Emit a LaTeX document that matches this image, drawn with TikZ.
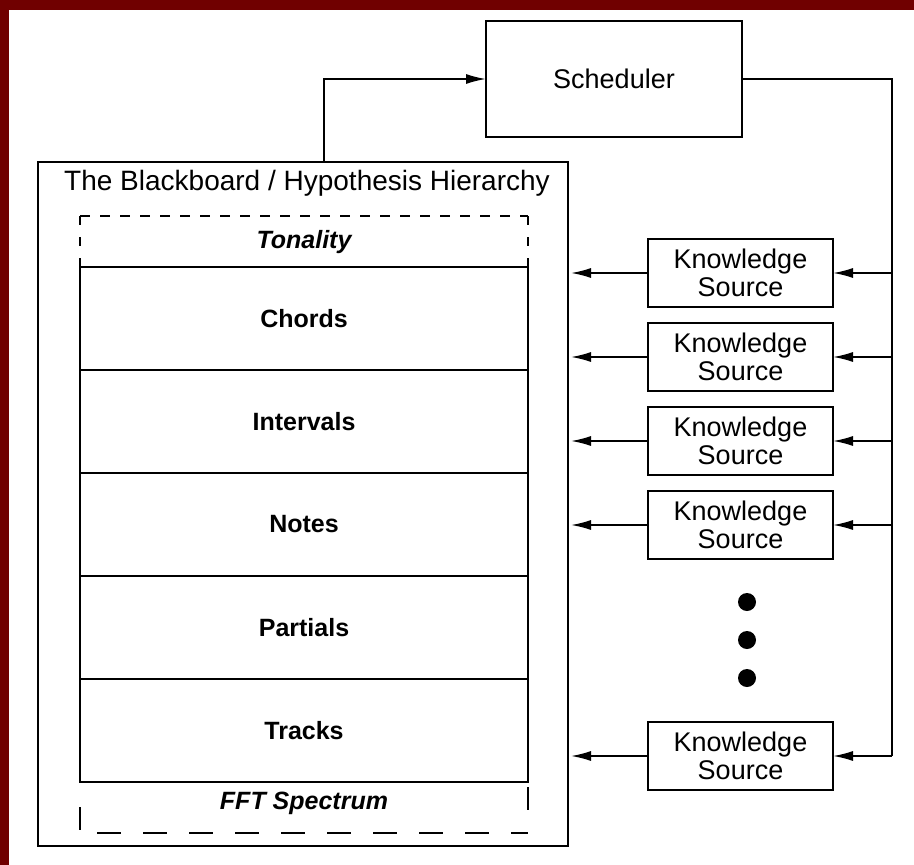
\documentclass[tikz,border=0pt]{standalone}
\usepackage{fontspec}
\setmainfont{Liberation Sans}
\usetikzlibrary{shapes.geometric, arrows.meta, positioning}
\definecolor{framered}{RGB}{112,0,0}
\tikzstyle{board} = [
    rectangle,
    minimum width=530pt,
    minimum height=684pt,
    outer sep=0pt,
    draw=black
]
\tikzstyle{layer} = [
    rectangle,
    minimum width=448pt,
    minimum height=103pt,
    outer sep=0pt,
    font=\fontsize{25}{28}\selectfont\bfseries,
    draw=black
]
\tikzstyle{process} = [
    rectangle,
    minimum width=185pt,
    minimum height=68pt,
    align=center,
    outer sep=0pt,
    font=\fontsize{27}{28}\selectfont,
    draw=black
]
\tikzstyle{level} = [font=\fontsize{25}{28}\selectfont\bfseries\itshape]
\tikzstyle{dot} = [circle, fill=black, minimum size=18pt, inner sep=0pt]
\tikzstyle{arrow} = [line width=1.6pt, -{Latex[length=20pt, width=10pt]}]

\begin{document}
\begin{tikzpicture}[x=1pt, y=-1pt, line width=1.6pt]

\useasboundingbox (0,0) rectangle (914,865);
\fill[framered] (0,0) rectangle (914,10);
\fill[framered] (0,0) rectangle (9,865);

\node (sched) [process, minimum width=256pt, minimum height=116pt] at (614,79)
{Scheduler};

\node (board) [board] at (303,504) {};
\node (title) [font=\fontsize{28}{30}\selectfont] at (307,183)
{The Blackboard / Hypothesis Hierarchy};

\node (tonality) [level] at (304,242) {Tonality};
\node (chords) [layer] at (304,318.5) {Chords};
\node (intervals) [layer, below=0pt of chords] {Intervals};
\node (notes) [layer, below=0pt of intervals] {Notes};
\node (partials) [layer, below=0pt of notes] {Partials};
\node (tracks) [layer, below=0pt of partials] {Tracks};
\node (fft) [level] at (304,803) {FFT Spectrum};

\draw[dash pattern=on 10pt off 10pt] (80,216) -- (528,216);
\draw[dash pattern=on 9pt off 12pt] (80,216) -- (80,267);
\draw[dash pattern=on 9pt off 12pt] (528,216) -- (528,267);
\draw (80,807) -- (80,830);
\draw (528,787) -- (528,810);
\draw[dash pattern=on 24pt off 22pt] (97,833) -- (528,833);

\foreach \i/\y in {1/273, 2/357, 3/441, 4/525, 5/756}
    \node (ks\i) [process] at (740.5,\y) {Knowledge\\Source};

\node (dot1) [dot] at (747,602) {};
\node (dot2) [dot] at (747,640) {};
\node (dot3) [dot] at (747,678) {};

\coordinate (bus) at (892,756);

\draw [arrow] ([xshift=21pt]board.north) |- (sched.west);
\draw (sched.east) -| (bus);

\foreach \i in {1,...,5} {
    \draw [arrow] (bus |- ks\i.east) -- (ks\i.east);
    \draw [arrow, shorten >=3pt] (ks\i.west) -- (board.east |- ks\i.west);
}

\end{tikzpicture}
\end{document}
